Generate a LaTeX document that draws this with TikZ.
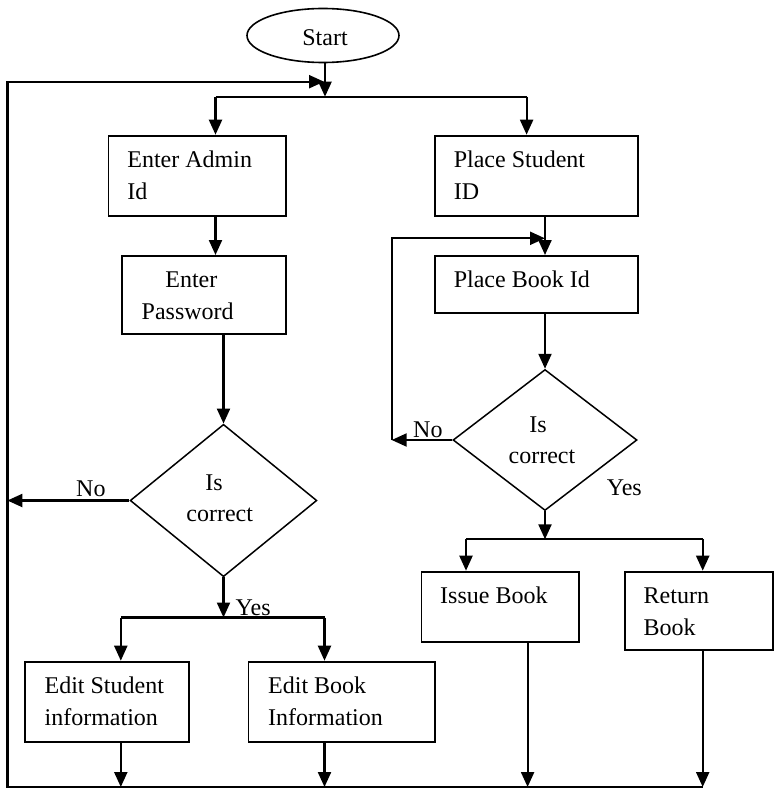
\documentclass[tikz,border=0pt]{standalone}
\usepackage{fontspec}
\setmainfont{Liberation Serif}
\usetikzlibrary{arrows.meta,shapes.geometric}
\tikzset{
  box/.style={draw, line width=1.8pt, inner sep=0pt, anchor=north west},
  conn/.style={line width=2.2pt},
  arr/.style={conn, -{Triangle[length=15pt,width=13pt]}},
  txt/.style={font=\fontsize{24pt}{32pt}\selectfont, inner sep=0pt, anchor=base west},
  ctxt/.style={txt, anchor=base},
  dia/.style={draw, shape=diamond, line width=1.5pt, inner sep=0pt},
}
\begin{document}
\begin{tikzpicture}[x=1pt,y=-1pt]
\useasboundingbox (0,0) rectangle (773,789);
% start
\node[draw, ellipse, line width=1.6pt, minimum width=152pt, minimum height=54pt, inner sep=0pt] (start) at (323,35.5) {};
\node[ctxt] (startt) at (325,46) {Start};
% boxes
\node[box, minimum width=177.5pt, minimum height=80.3pt] (admin) at (107.5,134.7) {};
\node[box, minimum width=203pt, minimum height=80.3pt] (psid) at (434,134.7) {};
\node[box, minimum width=164pt, minimum height=78.3pt] (pwd) at (121,255) {};
\node[box, minimum width=203pt, minimum height=57.3pt] (pbook) at (434,255) {};
\node[box, minimum width=157.8pt, minimum height=70pt] (issue) at (420.6,570.7) {};
\node[box, minimum width=148pt, minimum height=78.3pt] (ret) at (623.8,570.7) {};
\node[box, minimum width=164.7pt, minimum height=80pt] (estu) at (23.7,660.7) {};
\node[box, minimum width=186.5pt, minimum height=80pt] (ebook) at (247.5,660.7) {};
% diamonds
\node[dia, minimum width=186.7pt, minimum height=152.4pt] (dl) at (223.5,500.5) {};
\node[dia, minimum width=184pt, minimum height=141pt] (dr) at (545,440) {};
% texts
\node[txt] (adm1) at (127.2,167.7) {Enter Admin};
\node[txt] (adm2) at (127.2,199.3) {Id};
\node[txt] (ps1) at (453.6,167.7) {Place Student};
\node[txt] (ps2) at (453.6,199.3) {ID};
\node[txt] (pw1) at (165.2,287.3) {Enter};
\node[txt] (pw2) at (141.5,319.3) {Password};
\node[txt] (pb1) at (453.6,287.3) {Place Book Id};
\node[txt] (is1) at (440,603.3) {Issue Book};
\node[txt] (rt1) at (643.5,603.3) {Return};
\node[txt] (rt2) at (643.5,635) {Book};
\node[txt] (es1) at (44.4,693.3) {Edit Student};
\node[txt] (es2) at (44.4,725) {information};
\node[txt] (eb1) at (268,693.3) {Edit Book};
\node[txt] (eb2) at (268,725) {Information};
\node[ctxt] (dri) at (538,432) {Is};
\node[ctxt] (drc) at (542,463) {correct};
\node[ctxt] (dli) at (214,490) {Is};
\node[ctxt] (dlc) at (219.7,521.7) {correct};
\node[txt] (nol) at (76,496) {No};
\node[txt] (nor) at (413,437) {No};
\node[txt] (yesr) at (606.7,495) {Yes};
\node[txt] (yesl) at (235.5,615) {Yes};
% coordinates
\coordinate (sM) at (325,96.7);
\coordinate (sA) at (215.5,96.7);
\coordinate (sB) at (526.6,96.7);
\coordinate (bl) at (7.4,787);
\coordinate (tl) at (7.4,81.7);
\coordinate (tin) at (324,81.7);
\coordinate (sL1) at (120.8,617.5);
\coordinate (sL2) at (324.5,617.5);
\coordinate (sR1) at (466,539.3);
\coordinate (sR2) at (702.7,539.3);
\coordinate (ix) at (527.6,787);
\coordinate (rl) at (391.7,238.3);
% connectors
\draw[arr] (sM |- start.south) -- (sM);
\draw[conn] (sA) -- (sB);
\draw[arr] (sA) -- (sA |- admin.north);
\draw[arr] (sB) -- (sB |- psid.north);
\draw[arr] (sA |- admin.south) -- (sA |- pwd.north);
\draw[arr] (dl.north |- pwd.south) -- (dl.north);
\draw[arr] (dl.west) -- (tl |- dl.west);
\draw[arr] (dl.south) -- (dl.south |- sL1);
\draw[conn] (sL1) -- (sL2);
\draw[arr] (sL1) -- (sL1 |- estu.north);
\draw[arr] (sL2) -- (sL2 |- ebook.north);
\draw[arr] (sL1 |- estu.south) -- (sL1 |- bl);
\draw[arr] (sL2 |- ebook.south) -- (sL2 |- bl);
\draw[arr] (psid.south -| dr.north) -- (pbook.north -| dr.north);
\draw[arr] (dr.west) -- (rl |- dr.west);
\draw[arr] (rl |- dr.west) -- (rl) -- (rl -| dr.north);
\draw[arr] (pbook.south -| dr.north) -- (dr.north);
\draw[arr] (dr.south) -- (dr.south |- sR1);
\draw[conn] (sR1) -- (sR2);
\draw[arr] (sR1) -- (sR1 |- issue.north);
\draw[arr] (sR2) -- (sR2 |- ret.north);
\draw[arr] (ix |- issue.south) -- (ix);
\draw[arr] (sR2 |- ret.south) -- (sR2 |- bl);
\draw[arr] (sR2 |- bl) -- (bl) -- (tl) -- (tin);
\end{tikzpicture}
\end{document}
